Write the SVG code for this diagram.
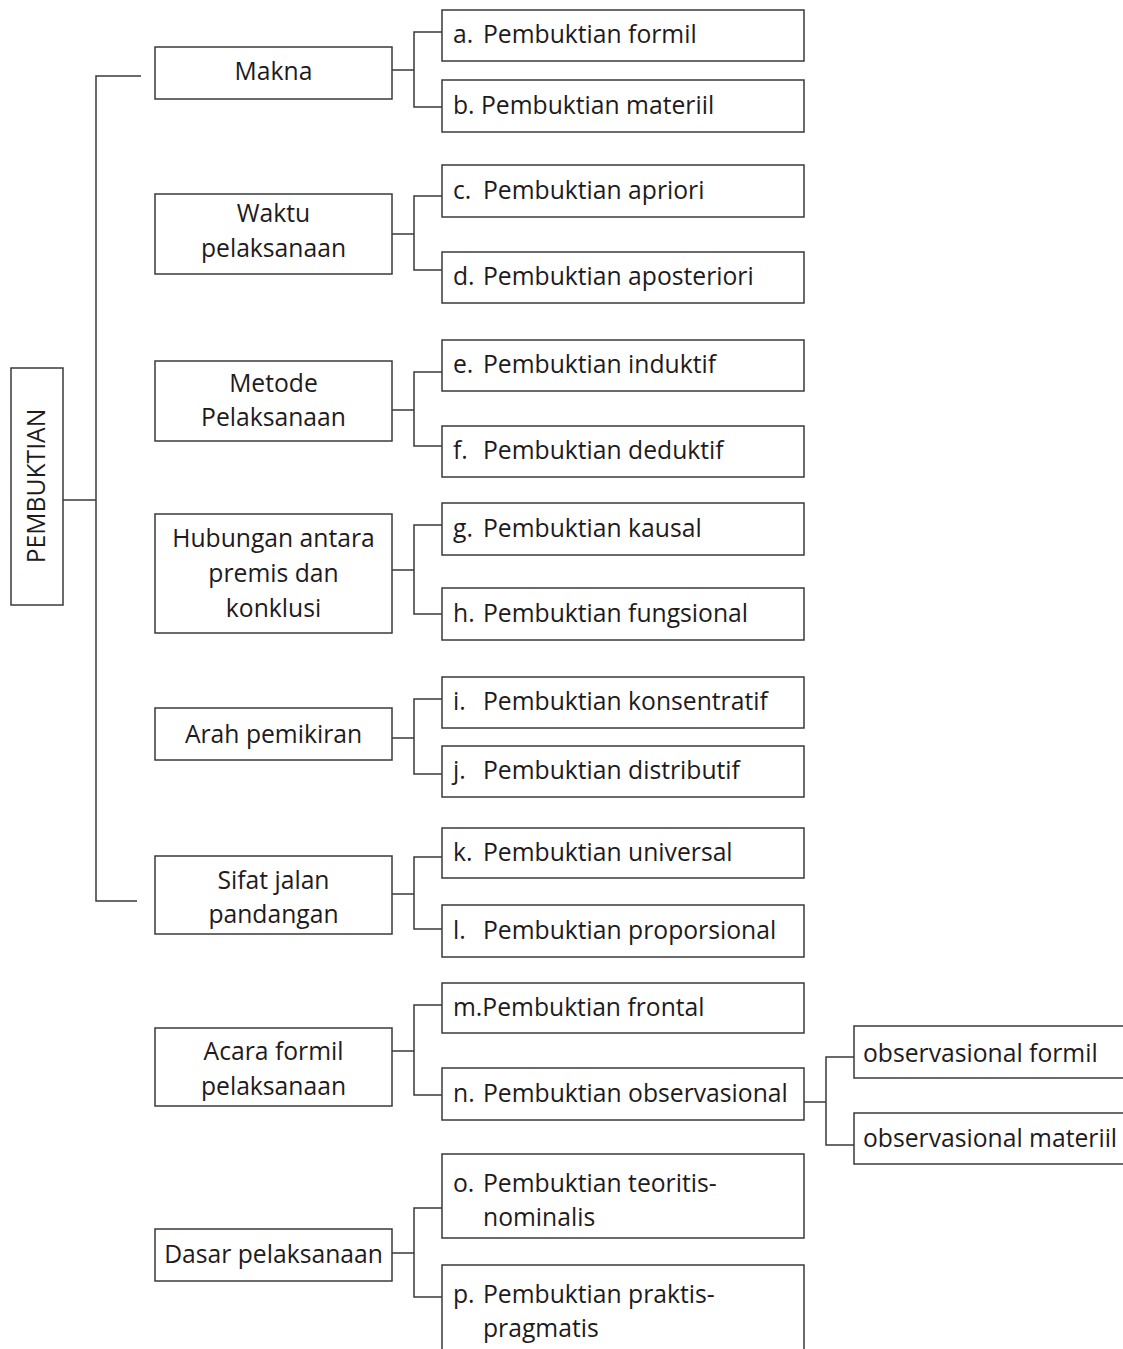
<svg xmlns="http://www.w3.org/2000/svg" width="1123" height="1349" viewBox="0 0 1123 1349">
  <style>
    .box { fill: #ffffff; stroke: #3a3a3a; stroke-width: 1.5; }
    .lnk { fill: none; stroke: #3a3a3a; stroke-width: 1.5; }
    text { font-family: "Open Sans", "Noto Sans", "Liberation Sans", sans-serif; font-size: 24.7px; fill: #1e1b1c; }
    .mid { text-anchor: middle; }
  </style>
  <rect x="0" y="0" width="1123" height="1349" fill="#ffffff"/>

  <!-- connectors -->
  <g id="connectors" class="lnk">
    <!-- root trunk -->
    <path d="M63 500H96M141 76H96V901H137"/>
    <!-- category brackets -->
    <path d="M392 70H414M442 32H414V107H442"/>
    <path d="M392 234H414M442 196H414V270H442"/>
    <path d="M392 410H414M442 372H414V446H442"/>
    <path d="M392 570H414M442 525H414V614H442"/>
    <path d="M392 738H414M442 699H414V774H442"/>
    <path d="M392 894H414M442 857H414V929H442"/>
    <path d="M392 1051H414M442 1005H414V1095H442"/>
    <path d="M392 1253H414M442 1208H414V1297H442"/>
    <!-- observational sub-bracket -->
    <path d="M804 1102H826M854 1057H826V1145H854"/>
  </g>

  <!-- root -->
  <g id="pembuktian">
    <rect class="box" x="11" y="368" width="52" height="237"/>
    <text class="mid" transform="translate(45 486) rotate(-90)" x="0" y="0">PEMBUKTIAN</text>
  </g>

  <!-- categories -->
  <g id="makna">
    <rect class="box" x="155" y="47" width="237" height="52"/>
    <text class="mid" x="273.5" y="80">Makna</text>
  </g>
  <g id="waktu">
    <rect class="box" x="155" y="194" width="237" height="80"/>
    <text class="mid" x="273.5" y="222">Waktu</text>
    <text class="mid" x="273.5" y="257">pelaksanaan</text>
  </g>
  <g id="metode">
    <rect class="box" x="155" y="361" width="237" height="80"/>
    <text class="mid" x="273.5" y="392">Metode</text>
    <text class="mid" x="273.5" y="426">Pelaksanaan</text>
  </g>
  <g id="hubungan">
    <rect class="box" x="155" y="514" width="237" height="119"/>
    <text class="mid" x="273.5" y="547">Hubungan antara</text>
    <text class="mid" x="273.5" y="582">premis dan</text>
    <text class="mid" x="273.5" y="617">konklusi</text>
  </g>
  <g id="arah">
    <rect class="box" x="155" y="708" width="237" height="52"/>
    <text class="mid" x="273.5" y="743">Arah pemikiran</text>
  </g>
  <g id="sifat">
    <rect class="box" x="155" y="856" width="237" height="78"/>
    <text class="mid" x="273.5" y="889">Sifat jalan</text>
    <text class="mid" x="273.5" y="923">pandangan</text>
  </g>
  <g id="acara">
    <rect class="box" x="155" y="1028" width="237" height="78"/>
    <text class="mid" x="273.5" y="1060">Acara formil</text>
    <text class="mid" x="273.5" y="1095">pelaksanaan</text>
  </g>
  <g id="dasar">
    <rect class="box" x="155" y="1229" width="237" height="52"/>
    <text class="mid" x="273.5" y="1263">Dasar pelaksanaan</text>
  </g>

  <!-- kinds of proof -->
  <g id="item-a">
    <rect class="box" x="442" y="10" width="362" height="51"/>
    <text x="453" y="43">a.<tspan x="483">Pembuktian formil</tspan></text>
  </g>
  <g id="item-b">
    <rect class="box" x="442" y="80" width="362" height="52"/>
    <text x="453" y="114">b. Pembuktian materiil</text>
  </g>
  <g id="item-c">
    <rect class="box" x="442" y="165" width="362" height="52"/>
    <text x="453" y="199">c.<tspan x="483">Pembuktian apriori</tspan></text>
  </g>
  <g id="item-d">
    <rect class="box" x="442" y="252" width="362" height="51"/>
    <text x="453" y="285">d.<tspan x="483">Pembuktian aposteriori</tspan></text>
  </g>
  <g id="item-e">
    <rect class="box" x="442" y="340" width="362" height="51"/>
    <text x="453" y="373">e.<tspan x="483">Pembuktian induktif</tspan></text>
  </g>
  <g id="item-f">
    <rect class="box" x="442" y="426" width="362" height="51"/>
    <text x="453" y="459">f.<tspan x="483">Pembuktian deduktif</tspan></text>
  </g>
  <g id="item-g">
    <rect class="box" x="442" y="503" width="362" height="52"/>
    <text x="453" y="537">g.<tspan x="483">Pembuktian kausal</tspan></text>
  </g>
  <g id="item-h">
    <rect class="box" x="442" y="588" width="362" height="52"/>
    <text x="453" y="622">h.<tspan x="483">Pembuktian fungsional</tspan></text>
  </g>
  <g id="item-i">
    <rect class="box" x="442" y="677" width="362" height="51"/>
    <text x="453" y="710">i.<tspan x="483">Pembuktian konsentratif</tspan></text>
  </g>
  <g id="item-j">
    <rect class="box" x="442" y="746" width="362" height="51"/>
    <text x="453" y="779">j.<tspan x="483">Pembuktian distributif</tspan></text>
  </g>
  <g id="item-k">
    <rect class="box" x="442" y="828" width="362" height="50"/>
    <text x="453" y="861">k.<tspan x="483">Pembuktian universal</tspan></text>
  </g>
  <g id="item-l">
    <rect class="box" x="442" y="905" width="362" height="52"/>
    <text x="453" y="939">l.<tspan x="483">Pembuktian proporsional</tspan></text>
  </g>
  <g id="item-m">
    <rect class="box" x="442" y="983" width="362" height="50"/>
    <text x="453" y="1016">m.Pembuktian frontal</text>
  </g>
  <g id="item-n">
    <rect class="box" x="442" y="1068" width="362" height="52"/>
    <text x="453" y="1102">n.<tspan x="483">Pembuktian observasional</tspan></text>
  </g>
  <g id="item-o">
    <rect class="box" x="442" y="1154" width="362" height="84"/>
    <text x="453" y="1192">o.<tspan x="483">Pembuktian teoritis-</tspan></text>
    <text x="483" y="1226">nominalis</text>
  </g>
  <g id="item-p">
    <rect class="box" x="442" y="1265" width="362" height="100"/>
    <text x="453" y="1303">p.<tspan x="483">Pembuktian praktis-</tspan></text>
    <text x="483" y="1337">pragmatis</text>
  </g>

  <!-- observational sub-kinds -->
  <g id="obs-formil">
    <rect class="box" x="854" y="1026" width="290" height="52"/>
    <text x="863" y="1062">observasional formil</text>
  </g>
  <g id="obs-materiil">
    <rect class="box" x="854" y="1113" width="290" height="51"/>
    <text x="863" y="1147">observasional materiil</text>
  </g>
</svg>
